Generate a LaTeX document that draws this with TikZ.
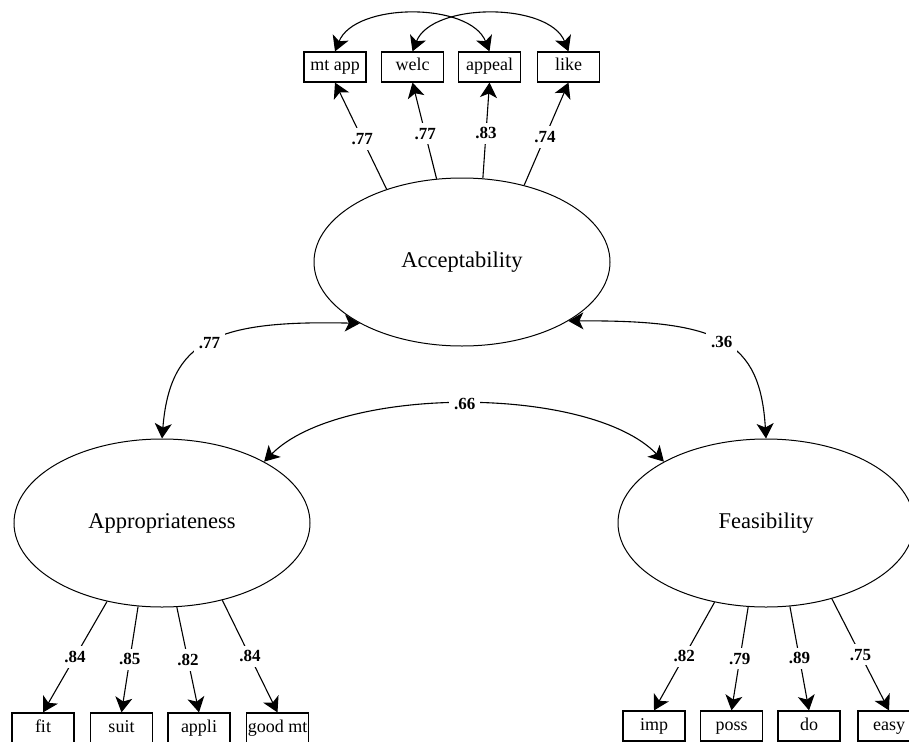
\documentclass[tikz,border=0pt]{standalone}
\usepackage{fontspec}
\setmainfont{Liberation Serif}
\usetikzlibrary{arrows.meta,shapes.geometric}
\begin{document}
\begin{tikzpicture}[x=1pt,y=-1pt,
  latent/.style={draw, ellipse, line width=1pt, minimum width=296pt, minimum height=168pt, inner sep=0pt, font=\fontsize{22.5}{24}\selectfont},
  obs/.style={draw, rectangle, line width=1.2pt, minimum width=62pt, minimum height=30pt, inner sep=1pt, font=\fontsize{18}{20}\selectfont, text height=12pt, text depth=4pt},
  arr/.style={line width=1.1pt, -{Stealth[length=15pt,width=17pt,inset=4pt]}},
  dbl/.style={line width=1.1pt, {Stealth[length=15pt,width=17pt,inset=4pt]}-{Stealth[length=15pt,width=17pt,inset=4pt]}},
  coef/.style={fill=white, inner sep=5pt, font=\fontsize{17}{18}\selectfont\bfseries}
]
\clip (0,0) rectangle (909,741);
\fill[white] (0,0) rectangle (909,741);

% latent variables
\node[latent] (acc)  at (462,262) {Acceptability};
\node[latent] (appr) at (162,523) {Appropriateness};
\node[latent] (feas) at (766,523) {Feasibility};

% observed: acceptability
\node[obs] (mtapp)  at (335,67)   {mt app};
\node[obs] (welc)   at (412.5,67) {welc};
\node[obs] (appeal) at (489.5,67) {appeal};
\node[obs] (like)   at (568.5,67) {like};

% observed: appropriateness
\node[obs] (fit)    at (43,728)    {fit};
\node[obs] (suit)   at (121.5,728) {suit};
\node[obs] (appli)  at (199,728)   {appli};
\node[obs] (goodmt) at (277.5,728) {good mt};

% observed: feasibility
\node[obs] (imp)  at (654,726)   {imp};
\node[obs] (poss) at (731.5,726) {poss};
\node[obs] (bdo)  at (809,726)   {do};
\node[obs] (easy) at (889,726)   {easy};

% loadings
\draw[arr] (acc.136) -- node[coef,pos=0.47]{.77} (mtapp.south);
\draw[arr] (acc.107) -- node[coef,pos=0.47]{.77} (welc.south);
\draw[arr] (acc.76)  -- node[coef,pos=0.47]{.83} (appeal.south);
\draw[arr] (acc.51)  -- node[coef,pos=0.47]{.74} (like.south);

\draw[arr] (appr.235.5) -- node[coef]{.84} (fit.north);
\draw[arr] (appr.254)   -- node[coef]{.85} (suit.north);
\draw[arr] (appr.280)   -- node[coef]{.82} (appli.north);
\draw[arr] (appr.308)   -- node[coef]{.84} (goodmt.north);

\draw[arr] (feas.237.5) -- node[coef]{.82} (imp.north);
\draw[arr] (feas.258)   -- node[coef]{.79} (poss.north);
\draw[arr] (feas.286)   -- node[coef]{.89} (bdo.north);
\draw[arr] (feas.311)   -- node[coef]{.75} (easy.north);

% error covariances among indicators
\draw[dbl] (mtapp.north) .. controls (355,2) and (470,2) .. (appeal.north);
\draw[dbl] (welc.north) .. controls (432,2) and (549,2) .. (like.north);

% factor covariances
\draw[dbl] (appr.90) .. controls (170,340) and (215,320) .. node[coef,pos=0.5]{.77} (acc.211);
\draw[dbl] (acc.331) .. controls (720,320) and (760,340) .. node[coef,pos=0.5]{.36} (feas.90);
\draw[dbl] (appr.31) .. controls (340,385) and (590,385) .. node[coef,pos=0.5]{.66} (feas.149);
\end{tikzpicture}
\end{document}
